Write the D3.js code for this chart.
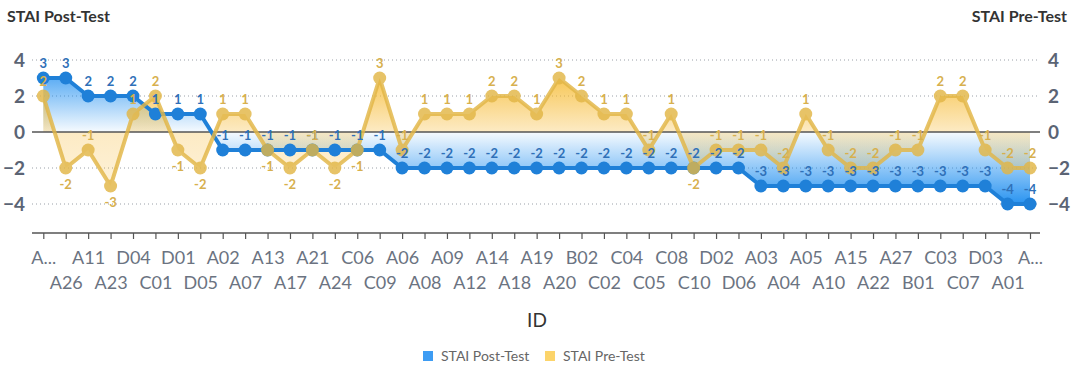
<!DOCTYPE html>
<html>
<head>
<meta charset="utf-8">
<script src="https://cdn.jsdelivr.net/npm/d3@7"></script>
<style>
  body { margin: 0; background: #fff; }
  svg { font-family: Lato, "Open Sans", sans-serif; }
</style>
</head>
<body>
<div id="chart"></div>
<script>
// Tick labels (as shown on the axis, first and last are truncated)
const ids = ["A...", "A26", "A11", "A23", "D04", "C01", "D01", "D05", "A02", "A07",
    "A13", "A17", "A21", "A24", "C06", "C09", "A06", "A08", "A09", "A12",
    "A14", "A18", "A19", "A20", "B02", "C02", "C04", "C05", "C08", "C10",
    "D02", "D06", "A03", "A04", "A05", "A10", "A15", "A22", "A27", "B01",
    "C03", "C07", "D03", "A01", "A..."];

const postTest = [3, 3, 2, 2, 2, 1, 1, 1, -1, -1,
    -1, -1, -1, -1, -1, -1, -2, -2, -2, -2,
    -2, -2, -2, -2, -2, -2, -2, -2, -2, -2,
    -2, -2, -3, -3, -3, -3, -3, -3, -3, -3,
    -3, -3, -3, -4, -4];

const preTest = [2, -2, -1, -3, 1, 2, -1, -2, 1, 1,
    -1, -2, -1, -2, -1, 3, -1, 1, 1, 1,
    2, 2, 1, 3, 2, 1, 1, -1, 1, -2,
    -1, -1, -1, -2, 1, -1, -2, -2, -1, -1,
    2, 2, -1, -2, -2];

const yTicks = [-4, -2, 0, 2, 4];

const width = 1075, height = 366;
const plotLeft = 32, plotRight = 1040, axisY = 233;

const svg = d3.select("#chart").append("svg")
    .attr("width", width)
    .attr("height", height);

const x = d3.scalePoint()
    .domain(d3.range(ids.length))
    .range([43.3, 1030]);

const y = d3.scaleLinear()
    .domain([-4, 4])
    .range([204, 60]);

// gradients
const defs = svg.append("defs");
const blueGrad = defs.append("linearGradient")
    .attr("id", "blueGrad")
    .attr("gradientUnits", "userSpaceOnUse")
    .attr("x1", 0).attr("x2", 0)
    .attr("y1", y(4)).attr("y2", y(-4));
blueGrad.append("stop").attr("offset", 0).attr("stop-color", "#1e8ef0").attr("stop-opacity", 0.95);
blueGrad.append("stop").attr("offset", 0.5).attr("stop-color", "#1e8ef0").attr("stop-opacity", 0.04);
blueGrad.append("stop").attr("offset", 1).attr("stop-color", "#1e8ef0").attr("stop-opacity", 0.95);

const yellowGrad = defs.append("linearGradient")
    .attr("id", "yellowGrad")
    .attr("gradientUnits", "userSpaceOnUse")
    .attr("x1", 0).attr("x2", 0)
    .attr("y1", y(3.5)).attr("y2", y(-3.5));
yellowGrad.append("stop").attr("offset", 0).attr("stop-color", "#f5ba2c").attr("stop-opacity", 0.9);
yellowGrad.append("stop").attr("offset", 0.5).attr("stop-color", "#f7bb3a").attr("stop-opacity", 0.3);
yellowGrad.append("stop").attr("offset", 1).attr("stop-color", "#f7bb3a").attr("stop-opacity", 0.18);

// gridlines
svg.append("g")
    .selectAll("line")
    .data(yTicks.filter(d => d !== 0))
    .join("line")
    .attr("x1", plotLeft)
    .attr("x2", plotRight)
    .attr("y1", d => y(d))
    .attr("y2", d => y(d))
    .attr("stroke", "#9aa0a8")
    .attr("stroke-width", 1)
    .attr("stroke-dasharray", "1,3");

// y axes, left and right
const yLeft = svg.append("g")
    .attr("transform", "translate(25,0)")
    .call(d3.axisLeft(y).tickValues(yTicks).tickSize(0).tickPadding(0));
const yRight = svg.append("g")
    .attr("transform", "translate(1048,0)")
    .call(d3.axisRight(y).tickValues(yTicks).tickSize(0).tickPadding(0));
[yLeft, yRight].forEach(g => {
    g.select(".domain").remove();
    g.selectAll("text")
        .attr("fill", "#5b6474")
        .style("font-size", "19px")
        .style("font-weight", "bold")
        .style("font-family", "Lato, sans-serif");
});

// areas
const area = d3.area()
    .x((d, i) => x(i))
    .y0(y(0))
    .y1(d => y(d));

svg.append("path")
    .datum(postTest)
    .attr("d", area)
    .attr("fill", "url(#blueGrad)");

svg.append("path")
    .datum(preTest)
    .attr("d", area)
    .attr("fill", "url(#yellowGrad)");

// zero line
svg.append("line")
    .attr("x1", plotLeft)
    .attr("x2", plotRight)
    .attr("y1", y(0))
    .attr("y2", y(0))
    .attr("stroke", "#555")
    .attr("stroke-width", 1.5);

// lines and dots
const line = d3.line()
    .x((d, i) => x(i))
    .y(d => y(d));

function drawSeries(data, color, opacity) {
    const g = svg.append("g").attr("opacity", opacity);
    g.append("path")
        .datum(data)
        .attr("d", line)
        .attr("fill", "none")
        .attr("stroke", color)
        .attr("stroke-width", 4)
        .attr("stroke-linejoin", "round");
    g.selectAll("circle")
        .data(data)
        .join("circle")
        .attr("cx", (d, i) => x(i))
        .attr("cy", d => y(d))
        .attr("r", 6.5)
        .attr("fill", color);
}

drawSeries(postTest, "#1f80d8", 1);
drawSeries(preTest, "#e2b646", 0.82);

// data labels
svg.append("g")
    .selectAll("text")
    .data(postTest)
    .join("text")
    .attr("x", (d, i) => x(i))
    .attr("y", d => y(d) - 10)
    .attr("text-anchor", "middle")
    .attr("fill", "#2f70b8")
    .style("font-size", "13px")
    .style("font-weight", "bold")
    .text(d => d);

// pre-test labels: peaks above, dips below unless the post-test point sits under it
function labelBelow(d, i) {
    const prev = i > 0 ? preTest[i - 1] : d;
    const next = i < preTest.length - 1 ? preTest[i + 1] : d;
    const isMin = d <= prev && d <= next;
    const isMax = d >= prev && d >= next;
    if (isMax && !isMin) return false;
    if (isMin && !isMax) return postTest[i] >= d;
    return d < 0 && postTest[i] >= d;
}

svg.append("g")
    .selectAll("text")
    .data(preTest)
    .join("text")
    .attr("x", (d, i) => x(i))
    .attr("y", (d, i) => labelBelow(d, i) ? y(d) + 21 : y(d) - 10)
    .attr("text-anchor", "middle")
    .attr("fill", "#d7b04e")
    .style("font-size", "13px")
    .style("font-weight", "bold")
    .text(d => d);

// x axis
const xAxis = svg.append("g")
    .attr("transform", `translate(0,${axisY})`)
    .call(d3.axisBottom(x).tickSize(6).tickSizeOuter(0).tickFormat(i => ids[i]));
xAxis.select(".domain").remove();
xAxis.append("line")
    .attr("x1", plotLeft)
    .attr("x2", plotRight)
    .attr("stroke", "#555")
    .attr("stroke-width", 1.5);
xAxis.selectAll(".tick line").attr("stroke", "#555").attr("stroke-width", 1.2);
xAxis.selectAll(".tick text")
    .attr("y", i => i % 2 === 0 ? 31 : 56)
    .attr("dy", 0)
    .attr("fill", "#6b7381")
    .style("font-size", "18px")
    .style("font-family", "Lato, sans-serif");

// axis titles
svg.append("text")
    .attr("x", 7)
    .attr("y", 22)
    .attr("fill", "#333")
    .style("font-size", "16px")
    .style("font-weight", "bold")
    .text("STAI Post-Test");

svg.append("text")
    .attr("x", 1067)
    .attr("y", 22)
    .attr("text-anchor", "end")
    .attr("fill", "#333")
    .style("font-size", "16px")
    .style("font-weight", "bold")
    .text("STAI Pre-Test");

svg.append("text")
    .attr("x", 537)
    .attr("y", 327)
    .attr("text-anchor", "middle")
    .attr("fill", "#333")
    .style("font-size", "19px")
    .text("ID");

// legend
const legend = [
    {name: "STAI Post-Test", color: "#3d9cf3", x: 423},
    {name: "STAI Pre-Test", color: "#fcd46a", x: 545}
];
const lg = svg.append("g")
    .selectAll("g")
    .data(legend)
    .join("g")
    .attr("transform", d => `translate(${d.x},351)`);
lg.append("rect")
    .attr("width", 10)
    .attr("height", 10)
    .attr("fill", d => d.color);
lg.append("text")
    .attr("x", 18)
    .attr("y", 10)
    .attr("fill", "#666")
    .style("font-size", "14px")
    .text(d => d.name);
</script>
</body>
</html>
